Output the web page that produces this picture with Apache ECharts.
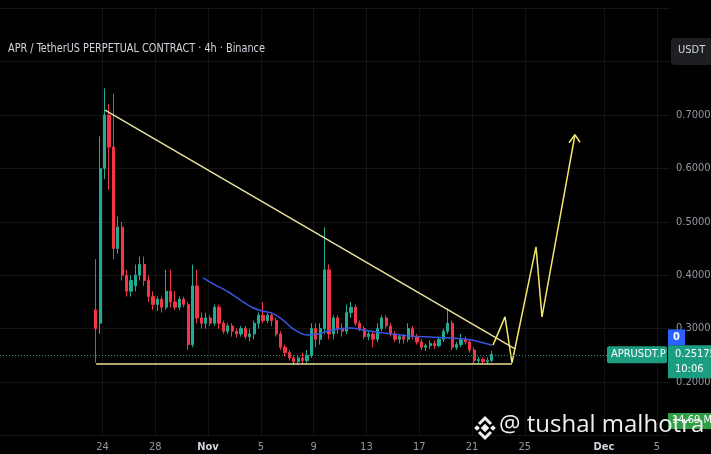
<!DOCTYPE html>
<html><head><meta charset="utf-8">
<script src="https://cdn.jsdelivr.net/npm/echarts@6/dist/echarts.min.js"></script>
<style>html,body{margin:0;padding:0;background:#000;}#c{width:711px;height:454px;}</style>
</head><body><div id="c"></div>
<script>
// ---- data (x in days from Nov 1 00:00; prices in USDT) ----
const candleStart = -8.5;          // Oct 23 12:00
const candleStepDays = 1 / 3;      // one candle per 8h (aggregated view)
const opens  = [0.335,0.310,0.600,0.700,0.640,0.450,0.490,0.400,0.370,0.380,0.400,0.420,0.390,0.360,0.345,0.355,0.340,0.370,0.350,0.340,0.355,0.345,0.270,0.380,0.320,0.310,0.320,0.310,0.340,0.310,0.295,0.305,0.295,0.290,0.300,0.285,0.290,0.310,0.325,0.315,0.325,0.315,0.290,0.265,0.255,0.245,0.238,0.245,0.240,0.250,0.300,0.280,0.300,0.410,0.290,0.320,0.300,0.295,0.330,0.340,0.310,0.300,0.285,0.290,0.280,0.300,0.320,0.305,0.290,0.280,0.285,0.280,0.300,0.285,0.275,0.265,0.268,0.272,0.268,0.280,0.295,0.310,0.265,0.270,0.280,0.275,0.260,0.240,0.242,0.238,0.240];
const closes = [0.300,0.600,0.700,0.640,0.450,0.490,0.400,0.370,0.390,0.400,0.420,0.390,0.360,0.345,0.355,0.340,0.370,0.350,0.340,0.355,0.345,0.270,0.380,0.320,0.310,0.320,0.310,0.340,0.310,0.295,0.305,0.295,0.290,0.300,0.285,0.290,0.310,0.325,0.315,0.325,0.315,0.290,0.265,0.255,0.245,0.238,0.245,0.240,0.250,0.300,0.280,0.300,0.410,0.290,0.320,0.300,0.295,0.330,0.340,0.310,0.300,0.285,0.290,0.280,0.300,0.320,0.305,0.290,0.280,0.285,0.280,0.300,0.285,0.275,0.265,0.268,0.272,0.268,0.280,0.295,0.310,0.265,0.270,0.280,0.275,0.260,0.240,0.242,0.238,0.240,0.25175];
const lows   = [0.236,0.290,0.580,0.560,0.430,0.440,0.390,0.360,0.360,0.370,0.390,0.380,0.350,0.335,0.333,0.330,0.335,0.340,0.335,0.335,0.340,0.260,0.265,0.310,0.300,0.300,0.305,0.305,0.300,0.290,0.290,0.285,0.283,0.285,0.280,0.276,0.280,0.300,0.310,0.310,0.305,0.285,0.260,0.248,0.240,0.232,0.232,0.233,0.235,0.245,0.265,0.270,0.290,0.280,0.280,0.290,0.285,0.290,0.320,0.305,0.295,0.280,0.278,0.265,0.275,0.295,0.300,0.285,0.275,0.272,0.272,0.275,0.280,0.270,0.260,0.258,0.262,0.262,0.265,0.275,0.290,0.260,0.260,0.265,0.270,0.255,0.234,0.235,0.234,0.234,0.237];
const highs  = [0.430,0.660,0.750,0.720,0.740,0.510,0.500,0.410,0.400,0.420,0.435,0.435,0.400,0.370,0.360,0.360,0.410,0.410,0.370,0.360,0.360,0.350,0.420,0.410,0.330,0.330,0.325,0.345,0.345,0.315,0.310,0.310,0.300,0.305,0.305,0.300,0.315,0.330,0.350,0.330,0.330,0.320,0.295,0.270,0.260,0.250,0.250,0.255,0.260,0.310,0.310,0.310,0.490,0.420,0.325,0.325,0.310,0.345,0.350,0.345,0.315,0.305,0.295,0.295,0.310,0.325,0.325,0.310,0.295,0.290,0.290,0.310,0.305,0.290,0.280,0.272,0.278,0.278,0.285,0.300,0.338,0.315,0.275,0.290,0.285,0.280,0.265,0.247,0.246,0.246,0.258];
const lastPrice = 0.25175;

const maDays   = [-0.38,0.53,1.52,2.42,3.33,4.09,4.85,5.68,6.59,7.50,8.33,9.24,10.76,11.89,13.26,15.30,17.05,18.71,19.85,21.52];
const maValues = [0.395,0.382,0.369,0.354,0.340,0.333,0.329,0.316,0.297,0.288,0.290,0.296,0.301,0.297,0.292,0.286,0.284,0.282,0.279,0.269];

const resistanceLine = [[-7.80, 0.709], [23.26, 0.262]];
const supportLine    = [[-8.48, 0.2337], [23.03, 0.2337]];
const projectionPath = [[21.59,0.269],[22.50,0.322],[23.03,0.236],[24.85,0.453],[25.30,0.322],[27.80,0.663]];
const arrowHead      = [[27.35,0.648],[27.80,0.663],[28.18,0.649]];

const xTickDays   = [-8, -4, 0, 4, 8, 12, 16, 20, 24, 30, 34];
const xTickLabels = ['24','28','Nov','5','9','13','17','21','25','Dec','5'];
const yTickLabelsShown = [0.2, 0.3, 0.4, 0.5, 0.6, 0.7];

// ---- build ----
const candleData = opens.map((o, i) => [candleStart + i * candleStepDays, o, closes[i], lows[i], highs[i]]);
const maData = maDays.map((d, i) => [d, maValues[i]]);

const UP = '#22ab94', DOWN = '#f23645';
const AXIS_FONT = '"Liberation Sans Narrow","DejaVu Sans Condensed",Roboto,sans-serif';

const chart = echarts.init(document.getElementById('c'), null, {renderer: 'canvas'});
chart.setOption({
  backgroundColor: '#000',
  animation: false,
  grid: {left: 0, right: 41, top: 8.2, bottom: 18.6, containLabel: false, outerBoundsMode: 'none'},
  xAxis: {
    type: 'value', min: -15.76, max: 35.0,
    axisLine: {show: false},
    axisTick: {show: false, customValues: xTickDays},
    splitLine: {show: true, lineStyle: {color: '#141414', width: 1}},
    axisLabel: {
      customValues: xTickDays, hideOverlap: false,
      color: '#9598a1', fontSize: 11, margin: 6, fontFamily: AXIS_FONT,
      formatter: v => {
        const i = xTickDays.findIndex(d => Math.abs(d - v) < 1e-6);
        if (i < 0) return '';
        const t = xTickLabels[i];
        return (t === 'Nov' || t === 'Dec') ? '{b|' + t + '}' : t;
      },
      rich: {b: {fontWeight: 'bold', color: '#d1d4dc', fontSize: 11, fontFamily: AXIS_FONT}}
    }
  },
  yAxis: {
    type: 'value', position: 'right', min: 0.1, max: 0.9, interval: 0.1,
    axisLine: {show: false}, axisTick: {show: false},
    splitLine: {show: true, lineStyle: {color: '#141414', width: 1}},
    axisLabel: {
      color: '#9598a1', fontSize: 11, margin: 6, fontFamily: AXIS_FONT,
      formatter: v => yTickLabelsShown.some(t => Math.abs(t - v) < 1e-6) ? v.toFixed(5) : ''
    }
  },
  series: [
    {
      type: 'candlestick', data: candleData, barWidth: 2.6,
      itemStyle: {color: UP, color0: DOWN, borderColor: UP, borderColor0: DOWN, borderWidth: 1},
      markLine: {
        silent: true, symbol: 'none', label: {show: false},
        lineStyle: {color: UP, type: [1, 2], width: 1, opacity: 0.9},
        data: [{yAxis: lastPrice}]
      }
    },
    {type: 'line', data: maData, symbol: 'none', smooth: 0.3, lineStyle: {color: '#3a55e0', width: 1.5}, z: 3},
    {type: 'line', data: resistanceLine, symbol: 'none', lineStyle: {color: '#e9e19a', width: 1.5}, z: 4},
    {type: 'line', data: supportLine, symbol: 'none', lineStyle: {color: '#e9e19a', width: 1.5}, z: 4},
    {type: 'line', data: projectionPath, symbol: 'none', lineStyle: {color: '#f2e66a', width: 1.5}, z: 4},
    {type: 'line', data: arrowHead, symbol: 'none', lineStyle: {color: '#f2e66a', width: 1.5}, z: 4}
  ]
});

// ---- overlay labels anchored to the price scale ----
const yP = chart.convertToPixel({yAxisIndex: 0}, lastPrice);
chart.setOption({
  graphic: [
    {type: 'text', x: 8, y: 43, scaleX: 0.9, z: 100,
     style: {text: 'APR / TetherUS PERPETUAL CONTRACT · 4h · Binance', fill: '#d1d4dc', fontSize: 12, fontFamily: AXIS_FONT}},
    {type: 'rect', z: 100, shape: {x: 671, y: 38, width: 44, height: 27, r: 4}, style: {fill: '#1e1f22'}},
    {type: 'text', z: 101, x: 678, y: 45, style: {text: 'USDT', fill: '#d1d4dc', fontSize: 11, fontFamily: AXIS_FONT}},
    // blue counter box
    {type: 'rect', z: 100, shape: {x: 668, y: yP - 25, width: 17, height: 16}, style: {fill: '#2962ff'}},
    {type: 'text', z: 101, x: 673, y: yP - 23, style: {text: '0', fill: '#fff', fontSize: 11, fontFamily: AXIS_FONT, fontWeight: 'bold'}},
    // symbol label
    {type: 'rect', z: 100, shape: {x: 607, y: yP - 8, width: 60, height: 17, r: 2}, style: {fill: '#1b9d82'}},
    {type: 'text', z: 101, x: 611, y: yP - 6, style: {text: 'APRUSDT.P', fill: '#fff', fontSize: 11, fontFamily: AXIS_FONT}},
    // price + countdown
    {type: 'rect', z: 100, shape: {x: 668, y: yP - 9, width: 45, height: 33}, style: {fill: '#1b9d82'}},
    {type: 'text', z: 101, x: 675, y: yP - 6, style: {text: '0.25175', fill: '#fff', fontSize: 11, fontFamily: AXIS_FONT}},
    {type: 'text', z: 101, x: 675, y: yP + 9, style: {text: '10:06', fill: '#fff', fontSize: 11, fontFamily: AXIS_FONT}},
    // volume label
    {type: 'rect', z: 100, shape: {x: 668, y: 413, width: 45, height: 16}, style: {fill: '#2f9e44'}},
    {type: 'text', z: 101, x: 672, y: 415, style: {text: '14.69 M', fill: '#fff', fontSize: 11, fontFamily: AXIS_FONT}},
    // watermark logo
    {type: 'group', z: 110, x: 485, y: 428, children: [
      {type: 'rect', shape: {x: -3, y: -3, width: 6, height: 6}, rotation: Math.PI / 4, style: {fill: '#f0f0f0'}},
      {type: 'rect', shape: {x: -2, y: -2, width: 4, height: 4}, x: -8, rotation: Math.PI / 4, style: {fill: '#f0f0f0'}},
      {type: 'rect', shape: {x: -2, y: -2, width: 4, height: 4}, x: 8, rotation: Math.PI / 4, style: {fill: '#f0f0f0'}},
      {type: 'polyline', shape: {points: [[-6, -4], [0, -10], [6, -4]]}, style: {stroke: '#f0f0f0', lineWidth: 3, fill: null}},
      {type: 'polyline', shape: {points: [[-6, 4], [0, 10], [6, 4]]}, style: {stroke: '#f0f0f0', lineWidth: 3, fill: null}}
    ]},
    {type: 'text', z: 110, x: 499, y: 413, style: {text: '@ tushal malhotra', fill: '#f0f0f0', fontSize: 24, fontFamily: '"Open Sans",sans-serif'}}
  ]
});
</script></body></html>
